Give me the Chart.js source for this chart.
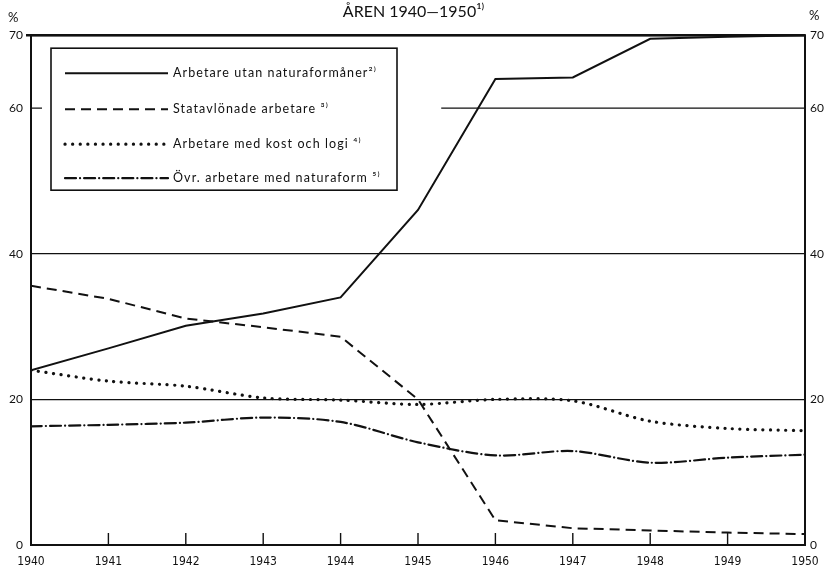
<!DOCTYPE html>
<html><head><meta charset="utf-8">
<script src="https://cdn.jsdelivr.net/npm/chart.js@4.4.0/dist/chart.umd.min.js"></script>
<style>html,body{margin:0;padding:0;background:#fff}#wrap{width:827px;height:565px}</style>
</head><body><div id="wrap"><canvas id="c" width="827" height="565"></canvas></div>
<script>
// ---- data ----
const years = [1940,1941,1942,1943,1944,1945,1946,1947,1948,1949,1950];
const utanNatura   = [24.0,27.0,30.1,31.8,34.0,46.0,64.0,64.2,69.5,69.8,70.0];
const statavlonade = [35.6,33.8,31.1,29.9,28.6,20.0,3.4,2.3,2.0,1.7,1.5];
const kostLogi     = [24.0,22.5,21.8,20.2,19.9,19.3,20.0,19.8,17.0,16.0,15.7];
const ovrNatura    = [16.3,16.5,16.8,17.5,16.9,14.1,12.3,12.9,11.3,12.0,12.4];
const yTicks = [0,20,40,60,70];
const fullGridValues = [20,40];
const partialGridValue = 60;
const partialGridFromYear = 1945.3;
const seriesLabels = [
  'Arbetare utan naturaformåner²⁾',
  'Statavlönade arbetare ³⁾',
  'Arbetare med kost och logi ⁴⁾',
  'Övr. arbetare med naturaform ⁵⁾'
];
const titleText = 'ÅREN 1940—1950¹⁾';

const pts = arr => arr.map((v,i)=>({x:years[i], y:v}));
const ink = '#111';

const dsStyles = [
  {borderDash:[], borderWidth:2, tension:0, cap:'butt'},
  {borderDash:[10,6], borderWidth:2, tension:0, cap:'butt'},
  {borderDash:[0.1,7.5], borderWidth:3.2, tension:0.3, cap:'round'},
  {borderDash:[11,4,0.1,4], borderWidth:2.2, tension:0.3, cap:'round'}
];
const seriesData = [utanNatura, statavlonade, kostLogi, ovrNatura];

const datasets = seriesData.map((d,i)=>({
  label: seriesLabels[i],
  data: pts(d),
  borderColor: ink,
  backgroundColor: ink,
  borderWidth: dsStyles[i].borderWidth,
  borderDash: dsStyles[i].borderDash,
  borderCapStyle: dsStyles[i].cap,
  tension: dsStyles[i].tension,
  pointRadius: 0,
  fill: false
}));

const FONT = 'Lato, "Open Sans", sans-serif';
const NARROW = '"Liberation Sans Narrow", "DejaVu Sans Condensed", "Liberation Sans", sans-serif';

const framePlugin = {
  id: 'frame',
  beforeDatasetsDraw(chart){
    const {ctx, chartArea:a, scales:{x,y}} = chart;
    ctx.save();
    ctx.strokeStyle = ink; ctx.lineWidth = 1.2;
    const y60 = y.getPixelForValue(partialGridValue);
    ctx.beginPath();
    ctx.moveTo(x.getPixelForValue(partialGridFromYear), y60);
    ctx.lineTo(a.right, y60);
    ctx.moveTo(a.left, y60); ctx.lineTo(a.left+11, y60);
    ctx.stroke();
    ctx.restore();
  },
  afterDraw(chart){
    const {ctx, chartArea:a, scales:{x,y}} = chart;
    ctx.save();
    ctx.strokeStyle = ink;
    // frame
    ctx.lineWidth = 2;
    ctx.strokeRect(a.left, a.top, a.right-a.left, a.bottom-a.top);
    ctx.lineWidth = 2.6;
    ctx.beginPath(); ctx.moveTo(a.left-5, a.top); ctx.lineTo(a.right, a.top); ctx.stroke();
    // inward x ticks
    ctx.lineWidth = 1.4;
    ctx.beginPath();
    x.ticks.forEach(t=>{
      if (t.value<=x.min || t.value>=x.max) return;
      const px = x.getPixelForValue(t.value);
      ctx.moveTo(px, a.bottom); ctx.lineTo(px, a.bottom-12);
    });
    ctx.stroke();
    // % labels
    ctx.fillStyle = ink;
    ctx.font = '13px ' + FONT;
    ctx.textBaseline = 'middle';
    ctx.textAlign = 'left';
    ctx.fillText('%', 8, 18);
    ctx.fillText('%', a.right+4, 16);
    // legend box
    const lx = a.left + 20, ly = a.top + 13, lw = 346, lh = 142;
    ctx.fillStyle = '#fff';
    ctx.fillRect(lx, ly, lw, lh);
    ctx.lineWidth = 1.6;
    ctx.strokeRect(lx, ly, lw, lh);
    const rows = [25, 61, 96, 130];
    chart.data.datasets.forEach((ds,i)=>{
      const yy = ly + rows[i];
      ctx.save();
      ctx.strokeStyle = ds.borderColor;
      ctx.lineWidth = ds.borderWidth;
      ctx.setLineDash(ds.borderDash);
      ctx.lineCap = ds.borderCapStyle;
      ctx.beginPath(); ctx.moveTo(lx+14, yy); ctx.lineTo(lx+117, yy); ctx.stroke();
      ctx.restore();
      ctx.fillStyle = ink;
      ctx.font = '12.5px ' + FONT;
      try { ctx.letterSpacing = '1.1px'; } catch(e){}
      ctx.textAlign = 'left';
      ctx.textBaseline = 'middle';
      ctx.fillText(ds.label, lx+122, yy);
      try { ctx.letterSpacing = '0px'; } catch(e){}
    });
    ctx.restore();
  }
};

new Chart(document.getElementById('c'), {
  type: 'line',
  data: { datasets },
  options: {
    responsive: false,
    devicePixelRatio: 1,
    animation: false,
    layout: { padding: {left: 0, right: 0, top: 0, bottom: 0} },
    plugins: {
      legend: { display: false },
      tooltip: { enabled: false },
      title: {
        display: true, text: titleText, color: ink,
        font: { family: FONT, size: 16, weight: 'normal' },
        padding: { top: 2, bottom: 14 }
      }
    },
    scales: {
      x: {
        type: 'linear', min: 1940, max: 1950,
        afterBuildTicks: s => { s.ticks = years.map(v=>({value:v})); },
        afterFit: s => { s.height = 20; },
        grid: { display: false },
        border: { display: false },
        ticks: { color: ink, padding: 2, maxRotation: 0, autoSkip: false,
                 font: { family: NARROW, size: 12 }, callback: v => String(v) }
      },
      y: {
        min: 0, max: 70, position: 'left',
        afterBuildTicks: s => { s.ticks = yTicks.map(v=>({value:v})); },
        afterFit: s => { s.width = 31; },
        grid: { drawTicks: false, lineWidth: 1.2,
                color: c => fullGridValues.includes(c.tick && c.tick.value) ? ink : 'rgba(0,0,0,0)' },
        border: { display: false },
        ticks: { color: ink, padding: 8, font: { family: FONT, size: 12 } }
      },
      y2: {
        min: 0, max: 70, position: 'right',
        afterBuildTicks: s => { s.ticks = yTicks.map(v=>({value:v})); },
        afterFit: s => { s.width = 22; },
        grid: { display: false, drawTicks: false },
        border: { display: false },
        ticks: { color: ink, padding: 5, font: { family: FONT, size: 12 } }
      }
    }
  },
  plugins: [framePlugin]
});
</script>
</body></html>
